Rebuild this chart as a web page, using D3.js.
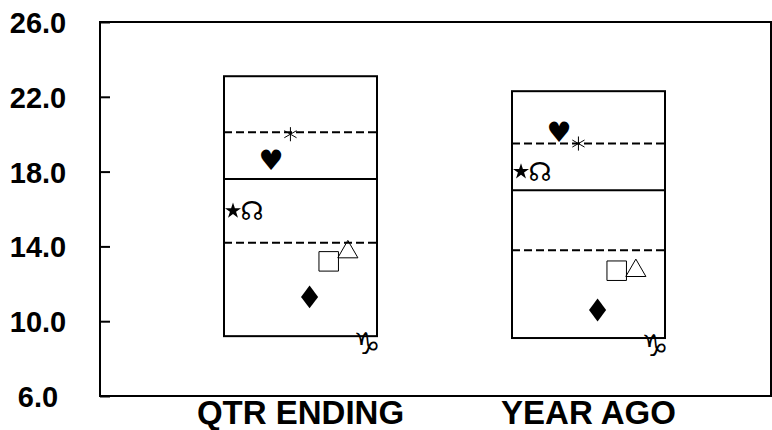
<!DOCTYPE html>
<html>
<head>
<meta charset="utf-8">
<script src="https://cdn.jsdelivr.net/npm/d3@7"></script>
<style>
  body { margin: 0; background: #fff; }
  svg { display: block; font-family: "Liberation Sans", Arial, sans-serif; }
  .glyph { font-family: "DejaVu Sans", sans-serif; }
</style>
</head>
<body>
<div id="chart"></div>
<script>
// categories along the bottom
var categories = ["QTR ENDING", "YEAR AGO"];

// box outline values per category
var boxHigh   = [23.1, 22.3];
var boxUpper  = [20.1, 19.5];
var boxMedian = [17.6, 17.0];
var boxLower  = [14.2, 13.8];
var boxLow    = [9.2, 9.1];

// marker series, one value per category
var seriesNames  = ["star", "node", "heart", "asterisk", "diamond", "square", "triangle", "capricorn"];
var seriesValues = [
  [15.9, 18.0],
  [15.9, 18.0],
  [18.6, 20.1],
  [20.0, 19.5],
  [11.3, 10.6],
  [13.2, 12.7],
  [13.7, 12.7],
  [8.8, 8.7]
];

var yTicks = [6, 10, 14, 18, 22, 26];

var W = 772, H = 430;
var plot = {left: 100, top: 22, right: 771, bottom: 396};

var svg = d3.select("#chart").append("svg")
    .attr("width", W)
    .attr("height", H);

var y = d3.scaleLinear()
    .domain([6, 26])
    .range([plot.bottom, plot.top]);

var x = d3.scalePoint()
    .domain(categories)
    .range([300.5, 588.5]);

// offset of each marker series inside a box
var xOff = d3.scalePoint()
    .domain(seriesNames)
    .range([-67.5, 66.5]);

var boxHalf = 76.5;

// frame
svg.append("rect")
    .attr("x", plot.left)
    .attr("y", plot.top)
    .attr("width", plot.right - plot.left)
    .attr("height", plot.bottom - plot.top)
    .attr("fill", "none")
    .attr("stroke", "#000")
    .attr("stroke-width", 2);

// y axis, ticks pointing inward
var yAxis = svg.append("g")
    .attr("transform", "translate(" + plot.left + ",0)")
    .call(d3.axisLeft(y).tickValues(yTicks).tickSize(-10).tickFormat(d3.format(".1f")));
yAxis.select(".domain").remove();
yAxis.selectAll(".tick line").attr("stroke", "#000").attr("stroke-width", 2);
yAxis.selectAll(".tick text")
    .attr("x", -62)
    .attr("dy", "0.36em")
    .attr("text-anchor", "middle")
    .attr("fill", "#000")
    .style("font-family", "'Liberation Sans', Arial, sans-serif")
    .style("font-size", "29px")
    .style("font-weight", "bold");

// category labels
svg.append("g").selectAll("text")
    .data(categories)
    .join("text")
    .attr("x", function(d) { return x(d); })
    .attr("y", 424)
    .attr("text-anchor", "middle")
    .style("font-size", "33px")
    .style("font-weight", "bold")
    .text(function(d) { return d; });

// boxes
var boxes = svg.append("g").selectAll("g")
    .data(categories)
    .join("g");

boxes.append("rect")
    .attr("x", function(d) { return x(d) - boxHalf; })
    .attr("y", function(d, i) { return y(boxHigh[i]); })
    .attr("width", boxHalf * 2)
    .attr("height", function(d, i) { return y(boxLow[i]) - y(boxHigh[i]); })
    .attr("fill", "none")
    .attr("stroke", "#000")
    .attr("stroke-width", 2);

function hline(arr, dashed) {
  boxes.append("line")
    .attr("x1", function(d) { return x(d) - boxHalf; })
    .attr("x2", function(d) { return x(d) + boxHalf; })
    .attr("y1", function(d, i) { return y(arr[i]); })
    .attr("y2", function(d, i) { return y(arr[i]); })
    .attr("stroke", "#000")
    .attr("stroke-width", 2)
    .attr("stroke-dasharray", dashed ? "8,4" : null);
}
hline(boxUpper, true);
hline(boxMedian, false);
hline(boxLower, true);

// marker drawing per series
var symbolDefs = {
  star:     {type: d3.symbolStar, size: 80, fill: "#000", sx: 1},
  asterisk: {type: d3.symbolAsterisk, size: 140, fill: "none", sx: 1},
  diamond:  {type: d3.symbolDiamond, size: 150, fill: "#000", sx: 1.3},
  square:   {type: d3.symbolSquare, size: 380, fill: "none", sx: 1},
  triangle: {type: d3.symbolTriangle, size: 175, fill: "none", sx: 1}
};
var glyphDefs = {
  node:      {ch: "\u260A", size: 26},
  heart:     {ch: "\u2665", size: 28},
  capricorn: {ch: "\u2651", size: 30}
};

var markers = svg.append("g");
seriesNames.forEach(function(name, s) {
  categories.forEach(function(cat, c) {
    var px = x(cat) + xOff(name);
    var py = y(seriesValues[s][c]);
    if (symbolDefs[name]) {
      var def = symbolDefs[name];
      markers.append("path")
        .attr("d", d3.symbol().type(def.type).size(def.size))
        .attr("transform", "translate(" + px + "," + py + ") scale(" + def.sx + ",1)")
        .attr("fill", def.fill)
        .attr("stroke", "#000")
        .attr("stroke-width", def.fill === "none" ? 1 : 0);
    } else {
      var g = glyphDefs[name];
      markers.append("text")
        .attr("class", "glyph")
        .attr("x", px)
        .attr("y", py)
        .attr("dy", "0.35em")
        .attr("text-anchor", "middle")
        .style("font-size", g.size + "px")
        .text(g.ch);
    }
  });
});
</script>
</body>
</html>
